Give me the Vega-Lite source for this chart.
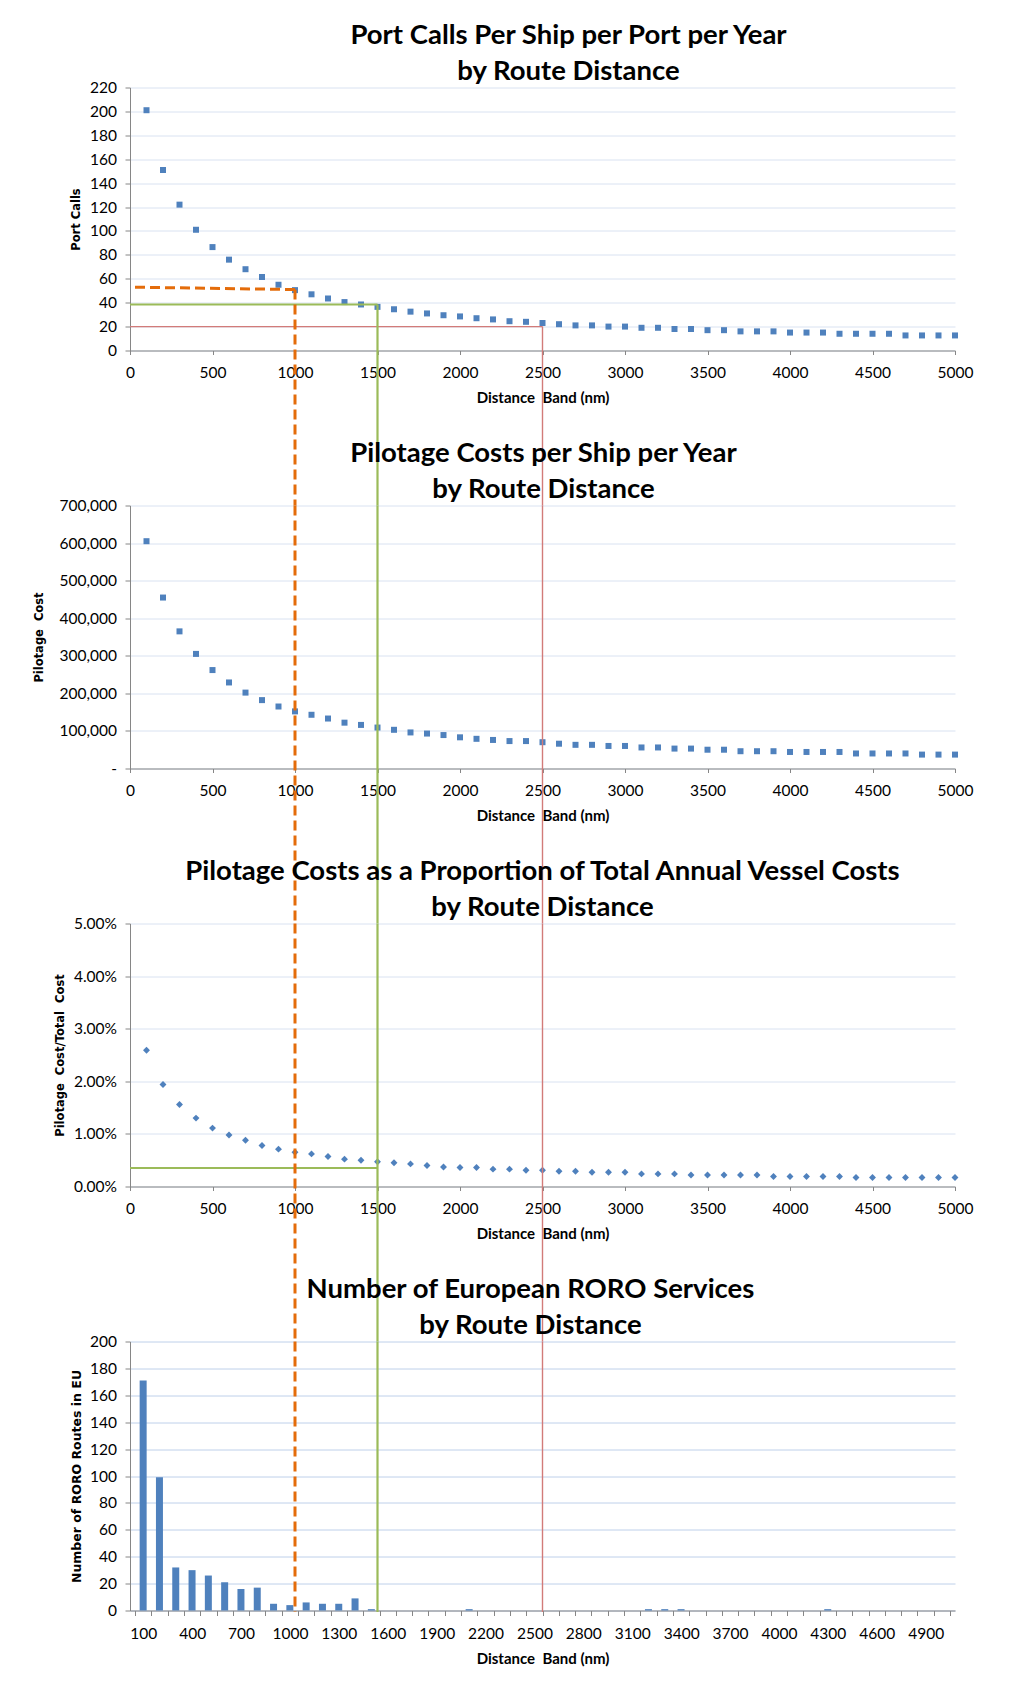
{
  "$schema": "https://vega.github.io/schema/vega-lite/v6.json",
  "background": "white",
  "padding": {"left": 33, "top": 21.5, "right": 5, "bottom": 5},
  "bounds": "flush",
  "spacing": 155,
  "config": {
    "view": {"stroke": null},
    "axis": {
      "labelFont": "Lato", "labelFontSize": 15.5, "labelColor": "#000000",
      "domainColor": "#868686", "tickColor": "#868686", "gridColor": "#D9E2F1",
      "titleFont": "Lato", "titleFontWeight": "bold", "titleColor": "#000000"
    },
    "axisX": {"grid": false, "tickSize": 4, "labelPadding": 11, "titlePadding": 9, "titleFontSize": 15, "labelFlush": false, "labelOverlap": false},
    "axisY": {"grid": true, "tickSize": 5, "labelPadding": 8.5, "titleFont": "DejaVu Sans", "titleFontSize": 11.5, "labelFlush": false},
    "title": {"font": "Lato", "fontSize": 27.5, "fontWeight": "bold", "color": "#000000", "anchor": "middle", "frame": "group", "lineHeight": 36, "offset": -5}
  },
  "datasets": {
    "curve": [
      {"distance":100,"port_calls":201,"pilotage_cost":605000,"cost_share":0.0259},
      {"distance":200,"port_calls":151,"pilotage_cost":455000,"cost_share":0.0194},
      {"distance":300,"port_calls":122,"pilotage_cost":365000,"cost_share":0.0156},
      {"distance":400,"port_calls":101,"pilotage_cost":305000,"cost_share":0.0130},
      {"distance":500,"port_calls":86.5,"pilotage_cost":262000,"cost_share":0.0111},
      {"distance":600,"port_calls":76,"pilotage_cost":229000,"cost_share":0.0098},
      {"distance":700,"port_calls":68,"pilotage_cost":202000,"cost_share":0.0088},
      {"distance":800,"port_calls":61.5,"pilotage_cost":182000,"cost_share":0.0078},
      {"distance":900,"port_calls":55,"pilotage_cost":165000,"cost_share":0.0071},
      {"distance":1000,"port_calls":50.5,"pilotage_cost":152000,"cost_share":0.0065},
      {"distance":1100,"port_calls":47,"pilotage_cost":143000,"cost_share":0.0062},
      {"distance":1200,"port_calls":43.5,"pilotage_cost":133000,"cost_share":0.0057},
      {"distance":1300,"port_calls":40.5,"pilotage_cost":122000,"cost_share":0.0052},
      {"distance":1400,"port_calls":38.5,"pilotage_cost":116000,"cost_share":0.0050},
      {"distance":1500,"port_calls":36.5,"pilotage_cost":109000,"cost_share":0.0047},
      {"distance":1600,"port_calls":34.5,"pilotage_cost":103000,"cost_share":0.0045},
      {"distance":1700,"port_calls":32.5,"pilotage_cost":96000,"cost_share":0.0043},
      {"distance":1800,"port_calls":31,"pilotage_cost":93000,"cost_share":0.0040},
      {"distance":1900,"port_calls":29.5,"pilotage_cost":89000,"cost_share":0.0037},
      {"distance":2000,"port_calls":28.5,"pilotage_cost":83000,"cost_share":0.0036},
      {"distance":2100,"port_calls":27,"pilotage_cost":79000,"cost_share":0.0036},
      {"distance":2200,"port_calls":26,"pilotage_cost":76000,"cost_share":0.0033},
      {"distance":2300,"port_calls":24.5,"pilotage_cost":73000,"cost_share":0.0033},
      {"distance":2400,"port_calls":24,"pilotage_cost":73000,"cost_share":0.0031},
      {"distance":2500,"port_calls":23,"pilotage_cost":70000,"cost_share":0.0031},
      {"distance":2600,"port_calls":22,"pilotage_cost":66000,"cost_share":0.0029},
      {"distance":2700,"port_calls":21,"pilotage_cost":63000,"cost_share":0.0029},
      {"distance":2800,"port_calls":21,"pilotage_cost":63000,"cost_share":0.0027},
      {"distance":2900,"port_calls":20,"pilotage_cost":60000,"cost_share":0.0027},
      {"distance":3000,"port_calls":20,"pilotage_cost":60000,"cost_share":0.0027},
      {"distance":3100,"port_calls":19,"pilotage_cost":56000,"cost_share":0.0024},
      {"distance":3200,"port_calls":19,"pilotage_cost":56000,"cost_share":0.0024},
      {"distance":3300,"port_calls":18,"pilotage_cost":53000,"cost_share":0.0024},
      {"distance":3400,"port_calls":18,"pilotage_cost":53000,"cost_share":0.0022},
      {"distance":3500,"port_calls":17,"pilotage_cost":50000,"cost_share":0.0022},
      {"distance":3600,"port_calls":17,"pilotage_cost":50000,"cost_share":0.0022},
      {"distance":3700,"port_calls":16,"pilotage_cost":46000,"cost_share":0.0022},
      {"distance":3800,"port_calls":16,"pilotage_cost":46000,"cost_share":0.0022},
      {"distance":3900,"port_calls":16,"pilotage_cost":46000,"cost_share":0.0019},
      {"distance":4000,"port_calls":15,"pilotage_cost":44000,"cost_share":0.0019},
      {"distance":4100,"port_calls":15,"pilotage_cost":44000,"cost_share":0.0019},
      {"distance":4200,"port_calls":15,"pilotage_cost":44000,"cost_share":0.0019},
      {"distance":4300,"port_calls":14,"pilotage_cost":44000,"cost_share":0.0019},
      {"distance":4400,"port_calls":14,"pilotage_cost":40000,"cost_share":0.0017},
      {"distance":4500,"port_calls":14,"pilotage_cost":40000,"cost_share":0.0017},
      {"distance":4600,"port_calls":14,"pilotage_cost":40000,"cost_share":0.0017},
      {"distance":4700,"port_calls":12.6,"pilotage_cost":40000,"cost_share":0.0017},
      {"distance":4800,"port_calls":12.6,"pilotage_cost":37000,"cost_share":0.0017},
      {"distance":4900,"port_calls":12.6,"pilotage_cost":37000,"cost_share":0.0017},
      {"distance":5000,"port_calls":12.6,"pilotage_cost":37000,"cost_share":0.0017}
    ],
    "roro": [
      {"distance":100,"routes":171},{"distance":200,"routes":99},{"distance":300,"routes":32},{"distance":400,"routes":30},
      {"distance":500,"routes":26},{"distance":600,"routes":21},{"distance":700,"routes":16},{"distance":800,"routes":17},
      {"distance":900,"routes":5},{"distance":1000,"routes":4},{"distance":1100,"routes":6},{"distance":1200,"routes":5},
      {"distance":1300,"routes":5},{"distance":1400,"routes":9},{"distance":1500,"routes":1},{"distance":1600,"routes":0},
      {"distance":1700,"routes":0},{"distance":1800,"routes":0},{"distance":1900,"routes":0},{"distance":2000,"routes":0},
      {"distance":2100,"routes":1},{"distance":2200,"routes":0},{"distance":2300,"routes":0},{"distance":2400,"routes":0},
      {"distance":2500,"routes":0},{"distance":2600,"routes":0},{"distance":2700,"routes":0},{"distance":2800,"routes":0},
      {"distance":2900,"routes":0},{"distance":3000,"routes":0},{"distance":3100,"routes":0},{"distance":3200,"routes":1},
      {"distance":3300,"routes":1},{"distance":3400,"routes":1},{"distance":3500,"routes":0},{"distance":3600,"routes":0},
      {"distance":3700,"routes":0},{"distance":3800,"routes":0},{"distance":3900,"routes":0},{"distance":4000,"routes":0},
      {"distance":4100,"routes":0},{"distance":4200,"routes":0},{"distance":4300,"routes":1},{"distance":4400,"routes":0},
      {"distance":4500,"routes":0},{"distance":4600,"routes":0},{"distance":4700,"routes":0},{"distance":4800,"routes":0},
      {"distance":4900,"routes":0},{"distance":5000,"routes":0}
    ],
    "refs": [
      {"marker":"1000 nm","distance":1000,"calls_start":53,"calls_level":51},
      {"marker":"1500 nm","distance":1500,"calls_start":38.5,"calls_level":38.5,"share_level":0.0035},
      {"marker":"2500 nm","distance":2500,"calls_start":20,"calls_level":20}
    ]
  },
  "vconcat": [
    {
      "width": 825, "height": 263,
      "title": {"text": ["Port Calls Per Ship per Port per Year", "by Route Distance"], "dx": 26},
      "layer": [
        {
          "data": {"name": "curve"},
          "mark": {"type": "point", "shape": "square", "filled": true, "size": 36, "color": "#4F81BD", "opacity": 1},
          "encoding": {
            "x": {"field": "distance", "type": "quantitative", "scale": {"domain": [0, 5000], "nice": false},
                  "axis": {"title": "Distance\u00a0 Band (nm)", "tickCount": 10, "format": "d"}},
            "y": {"field": "port_calls", "type": "quantitative", "scale": {"domain": [0, 220], "nice": false},
                  "axis": {"title": "Port Calls", "tickCount": 11, "format": "d", "titlePadding": 8}}
          }
        },
        {
          "data": {"name": "refs"},
          "mark": {"type": "rule"},
          "encoding": {
            "x": {"field": "distance", "type": "quantitative", "scale": {"domain": [0, 5000], "nice": false}},
            "x2": {"datum": 0},
            "y": {"field": "calls_level", "type": "quantitative", "scale": {"domain": [0, 220], "nice": false}},
            "y2": {"field": "calls_start"},
            "color": {"field": "marker", "type": "nominal", "scale": {"domain": ["1000 nm", "1500 nm", "2500 nm"], "range": ["#E46C0A", "#9BBB59", "#D27B79"]}, "legend": null},
            "strokeDash": {"field": "marker", "type": "nominal", "scale": {"domain": ["1000 nm", "1500 nm", "2500 nm"], "range": [[10, 5], [1, 0], [1, 0]]}, "legend": null},
            "strokeWidth": {"field": "marker", "type": "ordinal", "scale": {"domain": ["1000 nm", "1500 nm", "2500 nm"], "range": [3, 1.4, 2.2]}, "legend": null}
          }
        },
        {
          "data": {"name": "refs"},
          "mark": {"type": "rule"},
          "encoding": {
            "x": {"field": "distance", "type": "quantitative", "scale": {"domain": [0, 5000], "nice": false}},
            "y": {"field": "calls_level", "type": "quantitative", "scale": {"domain": [0, 220], "nice": false}},
            "y2": {"datum": -130},
            "color": {"field": "marker", "type": "nominal", "scale": {"domain": ["1000 nm", "1500 nm", "2500 nm"], "range": ["#E46C0A", "#9BBB59", "#C0504D"]}, "legend": null},
            "strokeDash": {"field": "marker", "type": "nominal", "scale": {"domain": ["1000 nm", "1500 nm", "2500 nm"], "range": [[10, 5], [1, 0], [1, 0]]}, "legend": null},
            "strokeWidth": {"field": "marker", "type": "ordinal", "scale": {"domain": ["1000 nm", "1500 nm", "2500 nm"], "range": [3, 1.3, 1.1]}, "legend": null}
          }
        }
      ]
    },
    {
      "width": 825, "height": 263,
      "title": {"text": ["Pilotage Costs per Ship per Year", "by Route Distance"], "dx": 1},
      "layer": [
        {
          "data": {"name": "curve"},
          "mark": {"type": "point", "shape": "square", "filled": true, "size": 36, "color": "#4F81BD", "opacity": 1},
          "encoding": {
            "x": {"field": "distance", "type": "quantitative", "scale": {"domain": [0, 5000], "nice": false},
                  "axis": {"title": "Distance\u00a0 Band (nm)", "tickCount": 10, "format": "d"}},
            "y": {"field": "pilotage_cost", "type": "quantitative", "scale": {"domain": [0, 700000], "nice": false},
                  "axis": {"title": "Pilotage\u00a0 Cost", "tickCount": 7, "titlePadding": 15,
                           "labelExpr": "datum.value === 0 ? '-\u00a0\u00a0\u00a0\u00a0\u00a0\u00a0\u00a0\u00a0' : format(datum.value, ',')"}}
          }
        },
        {
          "data": {"name": "refs"},
          "mark": {"type": "rule"},
          "encoding": {
            "x": {"field": "distance", "type": "quantitative", "scale": {"domain": [0, 5000], "nice": false}},
            "y": {"datum": 700000, "type": "quantitative", "scale": {"domain": [0, 700000], "nice": false}},
            "y2": {"datum": -413000},
            "color": {"field": "marker", "type": "nominal", "scale": {"domain": ["1000 nm", "1500 nm", "2500 nm"], "range": ["#E46C0A", "#9BBB59", "#C0504D"]}, "legend": null},
            "strokeDash": {"field": "marker", "type": "nominal", "scale": {"domain": ["1000 nm", "1500 nm", "2500 nm"], "range": [[10, 5], [1, 0], [1, 0]]}, "legend": null},
            "strokeWidth": {"field": "marker", "type": "ordinal", "scale": {"domain": ["1000 nm", "1500 nm", "2500 nm"], "range": [3, 1.3, 1.1]}, "legend": null}
          }
        }
      ]
    },
    {
      "width": 825, "height": 263,
      "title": {"text": ["Pilotage Costs as a Proportion of Total Annual Vessel Costs", "by Route Distance"], "dx": 0},
      "layer": [
        {
          "data": {"name": "curve"},
          "mark": {"type": "point", "shape": "diamond", "filled": true, "size": 48, "color": "#4F81BD", "opacity": 1},
          "encoding": {
            "x": {"field": "distance", "type": "quantitative", "scale": {"domain": [0, 5000], "nice": false},
                  "axis": {"title": "Distance\u00a0 Band (nm)", "tickCount": 10, "format": "d"}},
            "y": {"field": "cost_share", "type": "quantitative", "scale": {"domain": [0, 0.05], "nice": false},
                  "axis": {"title": "Pilotage\u00a0 Cost/Total\u00a0 Cost", "tickCount": 5, "format": ".2%", "titlePadding": 8}}
          }
        },
        {
          "data": {"name": "refs"},
          "transform": [{"filter": "isValid(datum.share_level)"}],
          "mark": {"type": "rule", "color": "#9BBB59", "strokeWidth": 2},
          "encoding": {
            "x": {"field": "distance", "type": "quantitative", "scale": {"domain": [0, 5000], "nice": false}},
            "x2": {"datum": 0},
            "y": {"field": "share_level", "type": "quantitative", "scale": {"domain": [0, 0.05], "nice": false}}
          }
        },
        {
          "data": {"name": "refs"},
          "mark": {"type": "rule"},
          "encoding": {
            "x": {"field": "distance", "type": "quantitative", "scale": {"domain": [0, 5000], "nice": false}},
            "y": {"datum": 0.05, "type": "quantitative", "scale": {"domain": [0, 0.05], "nice": false}},
            "y2": {"datum": -0.0295},
            "color": {"field": "marker", "type": "nominal", "scale": {"domain": ["1000 nm", "1500 nm", "2500 nm"], "range": ["#E46C0A", "#9BBB59", "#C0504D"]}, "legend": null},
            "strokeDash": {"field": "marker", "type": "nominal", "scale": {"domain": ["1000 nm", "1500 nm", "2500 nm"], "range": [[10, 5], [1, 0], [1, 0]]}, "legend": null},
            "strokeWidth": {"field": "marker", "type": "ordinal", "scale": {"domain": ["1000 nm", "1500 nm", "2500 nm"], "range": [3, 1.3, 1.1]}, "legend": null}
          }
        }
      ]
    },
    {
      "width": 825, "height": 269,
      "title": {"text": ["Number of European RORO Services", "by Route Distance"], "dx": -12},
      "resolve": {"scale": {"x": "independent"}, "axis": {"x": "independent"}},
      "layer": [
        {
          "data": {"name": "roro"},
          "mark": {"type": "bar", "width": 7, "color": "#4F81BD"},
          "encoding": {
            "x": {"field": "distance", "type": "quantitative", "scale": {"domain": [50, 5050], "nice": false, "zero": false},
                  "axis": {"title": "Distance\u00a0 Band (nm)", "tickSize": 5,
                           "values": [50,150,250,350,450,550,650,750,850,950,1050,1150,1250,1350,1450,1550,1650,1750,1850,1950,2050,2150,2250,2350,2450,2550,2650,2750,2850,2950,3050,3150,3250,3350,3450,3550,3650,3750,3850,3950,4050,4150,4250,4350,4450,4550,4650,4750,4850,4950,5050],
                           "labelExpr": "(datum.value - 50) % 300 === 0 && datum.value < 5000 ? '' + (datum.value + 50) : ''",
                           "labelOffset": 8.25}},
            "y": {"field": "routes", "type": "quantitative", "scale": {"domain": [0, 200], "nice": false},
                  "axis": {"title": "Number of RORO Routes in EU", "tickCount": 10, "format": "d", "titlePadding": 6, "titleFontSize": 12.5, "gridColor": "#BED0EA"}}
          }
        },
        {
          "data": {"name": "refs"},
          "mark": {"type": "rule"},
          "encoding": {
            "x": {"field": "distance", "type": "quantitative", "scale": {"domain": [0, 5000], "nice": false}, "axis": null},
            "y": {"datum": 200, "type": "quantitative", "scale": {"domain": [0, 200], "nice": false}},
            "y2": {"datum": -1.2},
            "color": {"field": "marker", "type": "nominal", "scale": {"domain": ["1000 nm", "1500 nm", "2500 nm"], "range": ["#E46C0A", "#9BBB59", "#C0504D"]}, "legend": null},
            "strokeDash": {"field": "marker", "type": "nominal", "scale": {"domain": ["1000 nm", "1500 nm", "2500 nm"], "range": [[10, 5], [1, 0], [1, 0]]}, "legend": null},
            "strokeWidth": {"field": "marker", "type": "ordinal", "scale": {"domain": ["1000 nm", "1500 nm", "2500 nm"], "range": [3, 1.3, 1.1]}, "legend": null}
          }
        }
      ]
    }
  ]
}
